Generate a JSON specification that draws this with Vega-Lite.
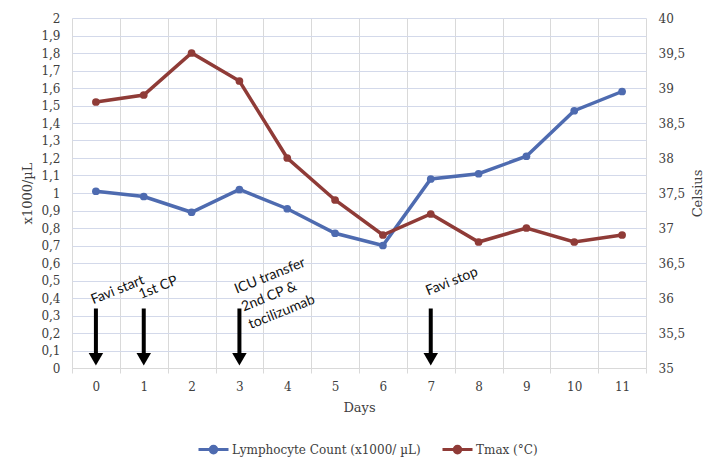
{
  "$schema": "https://vega.github.io/schema/vega-lite/v6.json",
  "width": 574,
  "height": 350,
  "autosize": {"type": "none"},
  "padding": {"left": 72, "top": 18, "right": 79, "bottom": 102},
  "background": "white",
  "datasets": {
    "series": [
      {"day": 0, "lymph": 1.01, "tmax": 38.8},
      {"day": 1, "lymph": 0.98, "tmax": 38.9},
      {"day": 2, "lymph": 0.89, "tmax": 39.5},
      {"day": 3, "lymph": 1.02, "tmax": 39.1},
      {"day": 4, "lymph": 0.91, "tmax": 38.0},
      {"day": 5, "lymph": 0.77, "tmax": 37.4},
      {"day": 6, "lymph": 0.70, "tmax": 36.9},
      {"day": 7, "lymph": 1.08, "tmax": 37.2},
      {"day": 8, "lymph": 1.11, "tmax": 36.8},
      {"day": 9, "lymph": 1.21, "tmax": 37.0},
      {"day": 10, "lymph": 1.47, "tmax": 36.8},
      {"day": 11, "lymph": 1.58, "tmax": 36.9}
    ],
    "arrows": [
      {"day": 0, "top": 0.34, "bottom": 0.07, "tip": 0.05},
      {"day": 1, "top": 0.34, "bottom": 0.07, "tip": 0.05},
      {"day": 3, "top": 0.34, "bottom": 0.07, "tip": 0.05},
      {"day": 7, "top": 0.34, "bottom": 0.07, "tip": 0.05}
    ],
    "notes": [
      {"day": 0, "y": 0.37, "label": "Favi start"},
      {"day": 1, "y": 0.40, "label": "1st CP"},
      {"day": 3, "y": 0.43, "label": "ICU transfer\n2nd CP &\ntocilizumab"},
      {"day": 7, "y": 0.42, "label": "Favi stop"}
    ]
  },
  "encoding": {
    "x": {
      "field": "day",
      "type": "ordinal",
      "scale": {"type": "band", "domain": [0,1,2,3,4,5,6,7,8,9,10,11], "paddingInner": 0, "paddingOuter": 0},
      "axis": {
        "title": "Days",
        "labelAngle": 0,
        "tickBand": "extent",
        "grid": true,
        "gridColor": "#D9D9D9",
        "tickColor": "#D9D9D9",
        "tickSize": 5,
        "domainColor": "#D9D9D9",
        "labelPadding": 8,
        "titlePadding": 9
      }
    }
  },
  "layer": [
    {
      "layer": [
        {
          "data": {"name": "series"},
          "mark": {"type": "line", "strokeWidth": 3.5, "point": {"filled": true, "size": 60}},
          "encoding": {
            "y": {
              "field": "lymph",
              "type": "quantitative",
              "scale": {"domain": [0, 2]},
              "axis": {
                "orient": "left",
                "title": "x1000/µL",
                "values": [0,0.1,0.2,0.3,0.4,0.5,0.6,0.7,0.8,0.9,1,1.1,1.2,1.3,1.4,1.5,1.6,1.7,1.8,1.9,2],
                "labelExpr": "replace(format(datum.value, '.1~f'), '.', ',')",
                "labelOverlap": false,
                "grid": true,
                "gridColor": "#D3D9EA",
                "domain": false,
                "ticks": false,
                "labelPadding": 12,
                "titlePadding": 6
              }
            },
            "color": {
              "datum": "Lymphocyte Count (x1000/ µL)",
              "type": "nominal",
              "scale": {"domain": ["Lymphocyte Count (x1000/ µL)", "Tmax (°C)"], "range": ["#4E6BB0", "#8F3B37"]},
              "legend": {
                "title": null,
                "orient": "none",
                "direction": "horizontal",
                "legendX": 125,
                "legendY": 415,
                "symbolType": "M-1,0L1,0M-0.22,0A0.22,0.22 0 1 0 0.22,0A0.22,0.22 0 1 0 -0.22,0",
                "symbolSize": 900,
                "symbolStrokeWidth": 3,
                "columnPadding": 15,
                "labelOffset": 2
              }
            }
          }
        },
        {
          "data": {"name": "arrows"},
          "mark": {"type": "rule", "strokeWidth": 4, "color": "black"},
          "encoding": {
            "y": {
              "field": "top",
              "type": "quantitative",
              "scale": {"domain": [0, 2]},
              "axis": {
                "orient": "left",
                "title": "x1000/µL",
                "values": [0,0.1,0.2,0.3,0.4,0.5,0.6,0.7,0.8,0.9,1,1.1,1.2,1.3,1.4,1.5,1.6,1.7,1.8,1.9,2],
                "labelExpr": "replace(format(datum.value, '.1~f'), '.', ',')",
                "labelOverlap": false,
                "grid": true,
                "gridColor": "#D3D9EA",
                "domain": false,
                "ticks": false,
                "labelPadding": 12,
                "titlePadding": 6
              }
            },
            "y2": {"field": "bottom"}
          }
        },
        {
          "data": {"name": "arrows"},
          "mark": {"type": "point", "shape": "triangle-down", "filled": true, "color": "black", "size": 210, "opacity": 1},
          "encoding": {
            "y": {
              "field": "tip",
              "type": "quantitative",
              "scale": {"domain": [0, 2]},
              "axis": {
                "orient": "left",
                "title": "x1000/µL",
                "values": [0,0.1,0.2,0.3,0.4,0.5,0.6,0.7,0.8,0.9,1,1.1,1.2,1.3,1.4,1.5,1.6,1.7,1.8,1.9,2],
                "labelExpr": "replace(format(datum.value, '.1~f'), '.', ',')",
                "labelOverlap": false,
                "grid": true,
                "gridColor": "#D3D9EA",
                "domain": false,
                "ticks": false,
                "labelPadding": 12,
                "titlePadding": 6
              }
            }
          }
        },
        {
          "data": {"name": "notes"},
          "mark": {"type": "text", "align": "left", "baseline": "alphabetic", "angle": 338, "font": "Lato", "fontSize": 14, "color": "#111111", "lineBreak": "\n", "lineHeight": 19, "dx": -3},
          "encoding": {
            "y": {
              "field": "y",
              "type": "quantitative",
              "scale": {"domain": [0, 2]},
              "axis": {
                "orient": "left",
                "title": "x1000/µL",
                "values": [0,0.1,0.2,0.3,0.4,0.5,0.6,0.7,0.8,0.9,1,1.1,1.2,1.3,1.4,1.5,1.6,1.7,1.8,1.9,2],
                "labelExpr": "replace(format(datum.value, '.1~f'), '.', ',')",
                "labelOverlap": false,
                "grid": true,
                "gridColor": "#D3D9EA",
                "domain": false,
                "ticks": false,
                "labelPadding": 12,
                "titlePadding": 6
              }
            },
            "text": {"field": "label"}
          }
        }
      ]
    },
    {
      "data": {"name": "series"},
      "mark": {"type": "line", "strokeWidth": 3.5, "point": {"filled": true, "size": 60}},
      "encoding": {
        "y": {
          "field": "tmax",
          "type": "quantitative",
          "scale": {"domain": [35, 40]},
          "axis": {
            "orient": "right",
            "title": "Celsius",
            "titleAngle": 270,
            "values": [35,35.5,36,36.5,37,37.5,38,38.5,39,39.5,40],
            "labelExpr": "replace(format(datum.value, '.1~f'), '.', ',')",
            "grid": false,
            "domain": false,
            "ticks": false,
            "labelPadding": 12,
            "titlePadding": 20
          }
        },
        "color": {"datum": "Tmax (°C)", "type": "nominal"}
      }
    }
  ],
  "resolve": {"scale": {"y": "independent"}},
  "config": {
    "view": {"stroke": null},
    "axis": {
      "labelFont": "DejaVu Serif",
      "labelFontSize": 12,
      "labelColor": "#404040",
      "titleFont": "DejaVu Serif",
      "titleFontSize": 13,
      "titleFontWeight": "normal",
      "titleColor": "#404040"
    },
    "legend": {
      "labelFont": "DejaVu Serif",
      "labelFontSize": 12,
      "labelColor": "#404040",
      "labelLimit": 400
    }
  }
}
